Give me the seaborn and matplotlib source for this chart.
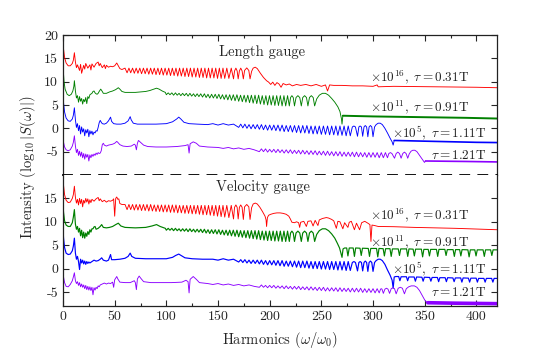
import pandas as pd
import matplotlib
matplotlib.use('Agg')
import matplotlib.pyplot as plt
import seaborn as sns
from matplotlib.ticker import MultipleLocator

# spectra: (harmonic order, log10 intensity incl. offset)

# ---- length gauge ----
red_len = [
    (0, 18.3), (0.5, 17.0), (1.5, 15.2), (3, 14.0), (5, 13.4), (7, 13.4), (9, 13.9), (10, 14.6), (11, 16.2), (12, 14.2),
    (13, 13.0), (14, 13.6), (16, 12.4), (17, 13.7), (18, 11.8), (20, 13.5), (21, 12.7), (22, 13.9), (24, 12.9), (26, 13.6),
    (27, 12.5), (28, 13.8), (30, 13.1), (32, 13.9), (34, 14.2), (35, 13.4), (36, 13.9), (38, 13.0), (40, 13.6), (41, 12.8),
    (42, 13.5), (44, 13.1), (46, 13.3), (48, 13.2), (50, 13.4), (51, 13.7), (52, 14.0), (53, 13.6), (54, 13.2), (55, 12.8),
    (57, 12.6), (58, 12.7), (60, 12.9), (62, 11.9), (63.8, 12.9), (65.5, 11.9), (67.3, 12.9), (69, 11.8), (70.8, 12.9),
    (72.5, 11.8), (74.3, 12.9), (76, 11.7), (77.8, 12.9), (79.5, 11.7), (81.3, 12.9), (83, 11.6), (84.8, 12.9), (86.5, 11.6),
    (88.3, 12.9), (90, 11.5), (91.8, 12.9), (93.5, 11.5), (95.3, 12.9), (97, 11.4), (98.8, 12.9), (100.5, 11.4), (102.3, 12.9),
    (104, 11.3), (105.8, 12.9), (107.5, 11.3), (109.3, 12.9), (111, 11.2), (112.8, 12.9), (114.5, 11.2), (116.3, 12.9),
    (118, 11.1), (119.8, 12.9), (121.5, 11.1), (123.3, 12.9), (125, 11.0), (126.8, 12.9), (128.5, 11.0), (130.3, 12.9),
    (132, 10.9), (133.8, 12.9), (135.5, 10.9), (137.3, 12.9), (139, 10.8), (140.8, 12.9), (142.5, 10.8), (144.3, 12.9),
    (146, 10.8), (147.8, 12.9), (149.5, 10.7), (151.3, 12.9), (153, 10.7), (154.8, 12.9), (156.5, 10.7), (158.5, 12.9),
    (160.5, 10.7), (162.8, 12.9), (165, 10.6), (166, 12.3), (167.3, 12.9), (168.5, 12.3), (169.5, 10.6), (170.7, 12.3),
    (172, 12.9), (173.3, 12.3), (174.5, 10.6), (175.7, 12.4), (177.8, 12.95), (179.8, 12.4), (181, 10.6),
    (182.5, 12.2), (184, 12.9), (186, 13.1), (188, 12.8), (191, 11.8), (194, 10.9), (197, 10.2), (199, 9.9), (201, 9.4),
    (203, 9.9), (205, 9.2), (207, 9.8), (209, 9.5), (211, 8.8), (213, 9.6), (216, 9.3), (219, 9.5), (222, 9.1), (226, 9.4),
    (230, 9.2), (235, 9.4), (240, 9.1), (245, 9.4), (250, 9.0), (254, 9.3), (256, 8.0), (258, 9.3), (262, 9.2), (270, 9.2),
    (280, 9.1), (290, 9.1), (300, 9.0), (304, 9.3), (305, 8.9), (320, 9.0), (340, 8.95), (360, 8.9), (380, 8.85),
    (400, 8.8), (420, 8.7),
]

green_len = [
    (0, 13.2), (0.5, 11.6), (1, 10.0), (2, 8.4), (4, 7.3), (6, 7.0), (8, 7.3), (9.5, 8.0), (10.5, 9.0), (11, 10.2),
    (12, 8.0), (13, 6.5), (14, 7.0), (15, 5.6), (16, 6.8), (17, 5.8), (18, 6.4), (19, 5.2), (20, 6.2), (21, 5.7),
    (22, 6.6), (23, 5.3), (24, 6.8), (25, 6.4), (26, 7.2), (28, 7.5), (29, 7.9), (30, 8.0), (31, 7.6), (32, 7.4),
    (33, 7.3), (34, 7.5), (35, 7.9), (36.5, 8.4), (38, 7.9), (39, 7.5), (42, 7.5), (45, 7.8), (48, 8.0), (51, 8.3),
    (53.5, 8.7), (55, 8.4), (57, 7.9), (60, 7.7), (65, 7.7), (70, 7.7), (75, 7.8), (80, 7.9), (84, 8.1), (88, 8.4),
    (90.5, 8.6), (93, 8.4), (96, 8.0), (99, 7.7),
    (100, 7.2), (101.8, 7.6), (103.5, 7.2), (105.3, 7.6), (107, 7.1), (108.8, 7.6), (110.5, 7.1), (112.3, 7.5), (114, 7.0),
    (115.8, 7.5), (117.5, 7.0), (119.3, 7.5), (121, 6.9), (122.8, 7.5), (124.5, 6.9), (126.3, 7.4), (128, 6.8), (129.8, 7.4),
    (131.5, 6.8), (133.3, 7.4), (135, 6.7), (136.8, 7.4), (138.5, 6.6), (140.3, 7.3), (142, 6.5), (143.8, 7.3), (145.5, 6.5),
    (147.3, 7.3), (149, 6.4), (150.8, 7.3), (152.5, 6.3), (154.3, 7.2), (156, 6.2), (157.8, 7.2), (159.5, 6.1), (161.3, 7.2),
    (163, 6.0), (164.8, 7.2), (166.5, 5.9), (168.3, 7.2), (170, 5.8), (171.8, 7.1), (173.5, 5.7), (175.3, 7.1), (177, 5.6),
    (178.8, 7.1), (180.5, 5.5), (182.3, 7.1), (184, 5.4), (185.8, 7.1), (187.5, 5.3), (189.3, 7.1), (191, 5.2), (192.8, 7.0),
    (194.5, 5.1), (196.3, 7.0), (198, 5.0), (199.8, 7.0), (201.5, 5.0), (203.3, 7.0), (205, 4.9), (206.8, 7.0), (208.5, 4.9),
    (210.3, 7.0), (212, 4.8), (213.8, 7.0), (215.5, 4.8), (217.3, 7.0), (219, 4.8), (220.2, 6.6), (221.5, 7.0), (222.8, 6.6),
    (224, 4.8), (225.5, 6.6), (227.3, 7.0), (229.1, 6.6), (230.6, 4.8), (232, 6.6), (233.8, 7.0), (235.6, 6.6), (237, 4.8),
    (238.5, 6.6), (240.3, 7.0), (242.1, 6.6), (243.5, 4.8), (245.5, 6.3), (248, 7.1), (251, 7.5), (254, 7.5), (257, 7.1),
    (260, 6.4), (263, 5.6), (266, 4.6), (268, 3.6), (269.5, 2.0), (270, 0.9), (270.8, 2.7),
]
green_len_floor = [(270.8, 2.7), (300, 2.55), (330, 2.45), (360, 2.35), (390, 2.25), (420, 2.1)]

blue_len = [
    (0, 7.1), (0.5, 5.5), (1.5, 3.5), (3, 2.2), (5, 1.6), (7, 1.5), (9, 2.0), (10, 2.8), (11, 4.4), (12, 1.8),
    (13, 0.2), (14, 1.0), (15, -0.5), (16, 0.6), (17, -1.2), (18, 0.3), (19, -0.8), (20, -0.1), (21, -1.6), (22, -0.3),
    (23, -1.0), (24, -0.2), (25, -1.8), (26, -0.5), (27, -1.2), (28, -0.6), (29, -1.4), (30, -0.8), (31, -1.0), (32, -0.5),
    (33, -0.6), (34, 0.2), (35, 1.2), (36, 1.7), (37, 1.3), (38, 1.0), (40, 0.9), (42, 1.1), (44, 1.6), (46, 2.4),
    (47, 1.5), (49, 1.0), (52, 0.9), (56, 0.9), (60, 1.1), (63, 1.6), (65, 2.5), (66, 1.8), (68, 1.1), (72, 0.9),
    (80, 0.9), (90, 0.9), (100, 1.0), (106, 1.4), (110, 2.0), (112, 2.4), (114, 2.0), (117, 1.3), (122, 1.0), (130, 0.9),
    (140, 0.8), (145, 1.0), (150, 0.7), (155, 1.0), (160, 0.7), (165, 0.9),
    (170, 0.2), (172, 0.9), (174, 0.1), (176, 0.9), (178, 0.0), (180, 0.8), (182, -0.1), (184, 0.8), (186, -0.1), (188, 0.8),
    (190, -0.2), (192, 0.8), (194, -0.3), (196, 0.7), (198, -0.4), (200, 0.7), (202, -0.4), (204, 0.7), (206, -0.5),
    (208, 0.7), (210, -0.6), (212, 0.7), (214, -0.7), (216, 0.6), (218, -0.7), (220, 0.6), (222, -0.8), (224, 0.6),
    (226, -0.9), (228, 0.6), (230, -1.0), (232, 0.6), (234, -1.0), (236, 0.6), (238, -1.1), (240, 0.5), (242, -1.2),
    (244, 0.5), (246, -1.2), (248, 0.5), (250, -1.3), (252, 0.5), (254, -1.3), (256, 0.5), (258, -1.4), (260, 0.5),
    (262, -1.4), (264, 0.5), (266, -1.5), (268, 0.5), (270, -1.5), (272, 0.5), (274, -1.6), (276, 0.5), (278, -1.6),
    (280, 0.3), (281.5, 0.5), (283, 0.3), (285, -1.7), (286.3, 0.3), (287.5, 0.5), (288.8, 0.3), (290, -1.7), (291.3, 0.3),
    (292.5, 0.6), (293.8, 0.3), (295, -1.8), (296.2, 0.3), (297.5, 0.6), (298.8, 0.3), (300, -1.8), (301.5, 0.3),
    (303, 0.8), (305, 1.1), (307, 1.1), (309, 0.8), (311.5, 0.0), (314, -1.0), (316.5, -2.1), (318.5, -2.9),
    (319.5, -3.6), (320.5, -2.6),
]
blue_len_floor = [(320.5, -2.6), (340, -2.7), (360, -2.8), (380, -2.9), (400, -3.0), (420, -3.05)]

purple_len = [
    (0, -2.0), (0.5, -3.0), (1.5, -4.0), (3, -4.6), (5, -4.8), (7, -4.6), (9, -3.8), (10, -3.0), (11, -1.6), (12, -3.8),
    (13, -5.2), (14, -4.5), (15, -5.8), (16, -4.9), (17, -6.0), (18, -5.1), (19, -6.3), (20, -5.4), (21, -6.6), (22, -5.5),
    (23, -6.2), (24, -5.6), (25, -7.0), (26, -5.7), (27, -6.3), (28, -5.6), (29, -6.0), (30, -5.5), (31, -5.8), (32, -5.3),
    (33, -5.6), (34, -5.2), (35, -5.4), (36, -5.3), (37, -4.8), (38, -3.5), (39, -3.2), (40, -3.6), (42, -3.8), (44, -3.6),
    (46, -3.5), (48, -3.4), (50, -3.2), (52, -2.8), (53, -3.0), (55, -3.5), (58, -3.8), (62, -3.9), (66, -3.8), (69, -3.4),
    (70, -3.6), (71, -4.6), (72, -3.2), (73, -2.6), (75, -3.0), (78, -3.6), (82, -3.9), (90, -4.0), (100, -4.0), (110, -3.9),
    (118, -3.7), (121, -3.5), (122, -5.3), (123, -3.3), (126, -2.9), (129, -3.2), (132, -3.8), (140, -4.0), (150, -4.1),
    (155, -4.3), (160, -4.1), (165, -4.4), (170, -4.2), (175, -4.5), (180, -4.3), (185, -4.6),
    (190, -5.0), (192, -4.4), (194, -5.0), (196, -4.4), (198, -5.1), (200, -4.5), (202, -5.1), (204, -4.5), (206, -5.2),
    (208, -4.5), (210, -5.2), (212, -4.6), (214, -5.3), (216, -4.6), (218, -5.3), (220, -4.6), (222, -5.4), (224, -4.7),
    (226, -5.4), (228, -4.7), (230, -5.5), (232, -4.7), (234, -5.5), (236, -4.8), (238, -5.6), (240, -4.8), (242, -5.6),
    (244, -4.8), (246, -5.7), (248, -4.9), (250, -5.7), (252, -4.9), (254, -5.8), (256, -4.9), (258, -5.8), (260, -5.0),
    (262, -5.9), (264, -5.0), (266, -5.9), (268, -5.0), (270, -6.0), (272, -5.1), (274, -6.0), (276, -5.1), (278, -6.0),
    (280, -5.1), (282, -6.1), (284, -5.1), (286, -6.1), (288, -5.2), (290, -6.1), (292, -5.2), (294, -6.2), (296, -5.2),
    (298, -6.2), (300, -5.2), (302, -6.2), (304, -5.2), (306, -6.3), (308, -5.2), (310, -6.3), (312, -5.2), (314, -6.3),
    (315.3, -5.4), (316.8, -5.2), (318.3, -5.4), (320.8, -6.4), (322.4, -5.4), (324, -5.1), (325.6, -5.4), (327.2, -6.4),
    (328.8, -5.4), (330.4, -5.1), (332, -5.4), (333.6, -6.4), (335, -5.5), (336.8, -4.9), (338.5, -4.7), (340.5, -4.7),
    (342.5, -5.0), (345, -5.8), (347.5, -6.6), (349.8, -7.3), (350.8, -7.0),
]
purple_len_floor = [(350.8, -7.0), (370, -7.05), (390, -7.1), (420, -7.2)]

# ---- velocity gauge ----
red_vel = [
    (0, 19.6), (0.5, 17.8), (1.5, 15.8), (3, 14.6), (5, 14.1), (7, 14.2), (9, 15.0), (10, 15.8), (11, 17.6), (12, 15.2),
    (13, 14.0), (14, 14.8), (15, 13.6), (16, 15.0), (17, 13.9), (18, 14.8), (19, 13.2), (20, 14.6), (21, 14.0), (22, 15.0),
    (23, 14.2), (24, 14.9), (25, 13.8), (26, 14.7), (27, 14.1), (28, 14.8), (30, 14.4), (32, 14.9), (34, 15.2), (35, 14.5),
    (36, 14.9), (38, 14.3), (40, 14.6), (42, 14.2), (44, 14.5), (46, 14.4), (48, 14.6), (49, 14.9), (50, 11.2), (51, 15.0),
    (52, 15.3), (53, 14.8), (54, 14.9), (55, 13.9), (57, 13.7), (58, 13.7), (60, 13.7), (62, 12.6), (63.8, 13.7),
    (65.5, 12.6), (67.3, 13.7), (69, 12.5), (70.8, 13.7), (72.5, 12.5), (74.3, 13.7), (76, 12.4), (77.8, 13.7), (79.5, 12.4),
    (81.3, 13.7), (83, 12.3), (84.8, 13.7), (86.5, 12.3), (88.3, 13.6), (90, 12.2), (91.8, 13.6), (93.5, 12.2), (95.3, 13.6),
    (97, 12.1), (98.8, 13.6), (100.5, 12.1), (102.3, 13.6), (104, 12.0), (105.8, 13.6), (107.5, 12.0), (109.3, 13.6),
    (111, 11.9), (112.8, 13.5), (114.5, 11.9), (116.3, 13.5), (118, 11.8), (119.8, 13.5), (121.5, 11.8), (123.3, 13.5),
    (125, 11.7), (126.8, 13.5), (128.5, 11.7), (130.3, 13.5), (132, 11.6), (133.8, 13.5), (135.5, 11.5), (137.3, 13.5),
    (139, 11.5), (140.8, 13.5), (142.5, 11.4), (144.3, 13.5), (146, 11.3), (147.8, 13.5), (149.5, 11.2), (151.3, 13.5),
    (153, 11.1), (154.8, 13.5), (156.5, 11.0), (158.5, 13.5), (160.5, 10.9), (162.8, 13.5), (165, 10.6), (166, 13.1),
    (167.3, 13.6), (168.5, 13.1), (169.5, 10.6), (170.7, 13.1), (172, 13.6), (173.3, 13.1), (174.5, 10.5), (175.7, 13.2),
    (177.8, 13.7), (179.8, 13.2), (181, 10.5),
    (182.5, 13.0), (184, 13.8), (186, 14.0), (188, 13.8), (190.5, 13.1), (193, 12.2), (195.5, 11.2), (196.5, 10.4),
    (197, 9.0), (197.8, 10.9), (199, 11.4), (201, 11.6), (204, 11.8), (207, 11.9), (210, 11.9), (213, 11.8), (216, 11.6),
    (218.5, 11.2), (220, 10.6), (221.5, 9.9), (224, 9.8), (226, 10.0), (228, 9.8), (229, 8.8), (230, 9.9), (233, 10.1),
    (235.5, 9.0), (237, 10.1), (240, 10.2), (242, 9.1), (244, 10.3), (246.7, 9.2), (248, 10.4), (251, 10.7), (254.8, 10.9),
    (257, 10.8), (260, 10.5), (262, 10.2), (264.5, 8.6), (266, 10.1), (268, 10.0), (270.8, 8.5), (272.5, 9.8), (275.7, 8.8),
    (277, 9.9), (279, 10.1), (282, 8.3), (284, 9.7), (287, 8.3), (289, 9.8), (292, 10.1), (295, 9.7), (297, 9.4),
    (298, 5.8), (299, 9.3), (301.5, 9.2), (305, 9.0), (320, 8.95), (340, 8.8), (360, 8.7), (380, 8.6), (400, 8.45),
    (420, 8.3),
]

green_vel = [
    (0, 13.5), (0.5, 12.0), (1.5, 10.2), (3, 9.3), (5, 9.0), (7, 9.0), (9, 9.8), (10, 11.0), (11, 12.6), (12, 9.5),
    (13, 8.4), (14, 9.0), (15, 7.8), (16, 8.6), (17, 7.0), (18, 8.2), (19, 6.6), (20, 7.8), (21, 6.5), (22, 7.6),
    (23, 6.9), (24, 7.9), (25, 7.3), (26, 8.3), (27, 7.8), (28, 8.5), (29, 8.5), (30, 8.9), (31, 9.0), (32, 8.4),
    (34, 8.6), (36, 9.0), (37.4, 9.4), (39, 8.8), (42, 8.7), (45, 8.8), (48, 9.0), (51, 9.4), (53.5, 9.7), (56, 9.1),
    (60, 8.8), (70, 8.7), (80, 8.8), (86, 9.1), (90.5, 9.4), (94, 9.0), (99, 8.6),
    (100, 8.2), (101.8, 8.6), (103.5, 8.2), (105.3, 8.6), (107, 8.1), (108.8, 8.6), (110.5, 8.1), (112.3, 8.5), (114, 8.0),
    (115.8, 8.5), (117.5, 8.0), (119.3, 8.5), (121, 7.9), (122.8, 8.5), (124.5, 7.9), (126.3, 8.4), (128, 7.8), (129.8, 8.4),
    (131.5, 7.8), (133.3, 8.4), (135, 7.7), (136.8, 8.4), (138.5, 7.6), (140.3, 8.3), (142, 7.5), (143.8, 8.3), (145.5, 7.5),
    (147.3, 8.3), (149, 7.4), (150.8, 8.3), (152.5, 7.3), (154.3, 8.2), (156, 7.2), (157.8, 8.2), (159.5, 7.1), (161.3, 8.2),
    (163, 7.0), (164.8, 8.2), (166.5, 6.9), (168.3, 8.2), (170, 6.8), (171.8, 8.1), (173.5, 6.7), (175.3, 8.1), (177, 6.6),
    (178.8, 8.1), (180.5, 6.5), (182.3, 8.1), (184, 6.4), (185.8, 8.1), (187.5, 6.3), (189.3, 8.1), (191, 6.2), (192.8, 8.0),
    (194.5, 6.1), (196.3, 8.0), (198, 6.0), (199.8, 8.0), (201.5, 6.0), (203.3, 8.0), (205, 5.9), (206.8, 8.0), (208.5, 5.9),
    (210.3, 8.0), (212, 5.8), (213.8, 8.0), (215.5, 5.8), (217.3, 8.0), (219, 5.8), (220.2, 7.6), (221.5, 8.0), (222.8, 7.6),
    (224, 5.8), (225.5, 7.6), (227.3, 8.0), (229.1, 7.6), (230.6, 5.8), (232, 7.6), (233.8, 8.0), (235.6, 7.6), (237, 5.8),
    (238.5, 7.6), (240.3, 8.0), (242.1, 7.6), (243.5, 5.8), (245.5, 7.3), (248, 8.1), (251, 8.5), (254, 8.5), (257, 8.1),
    (260, 7.4), (263, 6.5), (265.5, 5.4), (267.6, 4.4), (269, 3.2), (270, 2.4), (271, 4.2), (272.5, 4.4),
    (274.5, 4.4), (275.7, 2.7), (277, 4.4), (280.8, 4.4), (282, 2.6), (283.2, 4.4), (287.4, 4.35), (288.6, 2.8),
    (289.8, 4.35), (295.4, 4.3), (296.6, 2.6), (297.8, 4.3), (303.4, 4.3), (304.6, 2.5), (305.8, 4.3), (309.8, 4.25),
    (311, 2.7), (312.2, 4.25), (316.4, 4.25), (317.6, 2.6), (318.8, 4.2), (324.4, 4.2), (325.6, 2.8), (326.8, 4.2),
    (332.4, 4.2), (333.6, 2.6), (334.8, 4.2), (338.8, 4.15), (340, 2.7), (341.2, 4.15), (346.8, 4.15), (348, 2.5),
    (349.2, 4.1), (353.4, 4.1), (354.6, 2.7), (355.8, 4.1), (361.4, 4.1), (362.6, 2.6), (363.8, 4.1), (369.5, 4.1),
    (370.7, 2.8), (371.9, 4.05), (377.5, 4.05), (378.7, 2.6), (379.9, 4.05), (383.8, 4.05), (385, 2.7), (386.2, 4.05),
    (391.8, 4.0), (393, 2.5), (394.2, 4.0), (398.5, 4.0), (399.7, 2.7), (400.9, 4.0), (406.5, 4.0), (407.7, 2.6),
    (408.9, 4.0), (413.8, 4.0), (415, 2.8), (416.2, 4.0), (420, 4.0),
]

blue_vel = [
    (0, 8.5), (0.5, 6.5), (1.5, 4.5), (3, 3.3), (5, 3.0), (7, 3.1), (9, 3.8), (10, 4.8), (11, 6.5), (12, 3.3),
    (13, 2.0), (14, 2.6), (15, 1.5), (16, -0.2), (17, 2.0), (18, 1.2), (19, 1.8), (20, 1.0), (21, 1.6), (22, 0.9),
    (23, 1.5), (24, 1.1), (25, 1.4), (26, 1.2), (28, 1.5), (30, 1.8), (32, 1.6), (34, 1.7), (36, 2.0), (37.4, 2.3),
    (39, 1.8), (42, 1.6), (44, 1.8), (46, 3.0), (47, 1.9), (50, 1.9), (55, 2.0), (60, 2.2), (63, 2.6), (65, 3.3),
    (66.5, 2.6), (70, 2.2), (80, 2.1), (90, 2.1), (100, 2.1), (106, 2.4), (109, 2.8), (112, 3.1), (115, 2.7), (118, 2.3),
    (125, 2.1), (135, 2.0), (145, 2.0), (150, 1.8), (155, 2.1), (160, 1.8), (165, 2.0),
    (170, 1.4), (172, 1.9), (174, 1.3), (176, 1.9), (178, 1.2), (180, 1.8), (182, 1.1), (184, 1.8), (186, 1.1), (188, 1.8),
    (190, 1.0), (192, 1.8), (194, 0.9), (196, 1.7), (198, 0.8), (200, 1.7), (202, 0.8), (204, 1.7), (206, 0.7), (208, 1.7),
    (210, 0.6), (212, 1.7), (214, 0.5), (216, 1.6), (218, 0.5), (220, 1.6), (222, 0.4), (224, 1.6), (226, 0.3), (228, 1.6),
    (230, 0.2), (232, 1.6), (234, 0.2), (236, 1.6), (238, 0.1), (240, 1.5), (242, 0.0), (244, 1.5), (246, 0.0), (248, 1.5),
    (250, -0.1), (252, 1.5), (254, -0.1), (256, 1.5), (258, -0.2), (260, 1.5), (262, -0.2), (264, 1.5), (266, -0.3),
    (268, 1.5), (270, -0.3), (272, 1.5), (274, -0.4), (276, 1.5), (278, -0.4),
    (280, 1.3), (281.5, 1.5), (283, 1.3), (285, -0.5), (286.3, 1.3), (287.5, 1.5), (288.8, 1.3), (290, -0.5), (291.3, 1.3),
    (292.5, 1.6), (293.8, 1.3), (295, -0.6), (296.2, 1.3), (297.5, 1.6), (298.8, 1.3), (300, -0.6), (301.5, 1.3),
    (303, 1.7), (305, 2.0), (307, 2.0), (309, 1.7), (311.5, 0.9), (314, -0.3), (316.5, -1.4), (318.5, -2.5),
    (319.5, -4.2), (320.5, -1.8), (322, -1.7),
    (324.8, -1.7), (326, -2.6), (327.2, -1.75), (332.3, -1.75), (333.5, -2.6), (334.7, -1.8), (339.8, -1.8), (341, -2.7),
    (342.2, -1.8), (347.3, -1.85), (348.5, -2.7), (349.7, -1.85), (354.8, -1.9), (356, -2.7), (357.2, -1.9), (362.3, -1.9),
    (363.5, -2.8), (364.7, -1.95), (369.8, -1.95), (371, -2.8), (372.2, -1.95), (377.3, -2.0), (378.5, -2.8), (379.7, -2.0),
    (384.8, -2.0), (386, -2.9), (387.2, -2.0), (392.3, -2.05), (393.5, -2.9), (394.7, -2.05), (399.8, -2.05), (401, -2.9),
    (402.2, -2.1), (407.3, -2.1), (408.5, -2.9), (409.7, -2.1), (414.8, -2.1), (416, -2.9), (417.2, -2.1), (420, -2.1),
]

purple_vel = [
    (0, -0.5), (0.5, -1.8), (1.5, -3.0), (3, -3.8), (5, -3.9), (7, -3.4), (9, -2.6), (10, -1.8), (11, -0.9), (12, -2.6),
    (13, -3.2), (14, -2.8), (15, -3.6), (16, -3.0), (17, -3.9), (18, -3.3), (19, -4.0), (20, -3.5), (21, -4.3), (22, -3.6),
    (23, -4.5), (24, -3.8), (25, -4.6), (26, -3.9), (27, -4.7), (28, -4.0), (29, -5.6), (30, -4.1), (31, -4.6), (32, -4.0),
    (33, -4.3), (34, -3.7), (35, -3.9), (36, -3.5), (38, -3.3), (40, -3.1), (42, -3.3), (44, -3.1), (46, -3.2), (48, -2.9),
    (49, -4.0), (50, -2.4), (52, -1.7), (53, -2.2), (55, -2.9), (60, -3.0), (65, -3.0), (69, -2.6), (70, -3.0), (71, -4.5),
    (72, -2.2), (73.7, -1.6), (75, -2.0), (78, -2.8), (85, -3.0), (95, -3.0), (105, -3.0), (115, -2.9), (119, -2.5),
    (121, -2.8), (122, -5.2), (123, -2.3), (126, -1.7), (129, -2.3), (132, -3.0), (140, -3.2), (145, -3.4), (150, -3.2),
    (155, -3.5), (160, -3.3), (165, -3.6), (170, -3.4), (175, -3.7), (180, -3.5), (185, -3.8),
    (190, -4.0), (192, -3.5), (194, -4.0), (196, -3.6), (198, -4.1), (200, -3.6), (202, -4.1), (204, -3.6), (206, -4.2),
    (208, -3.7), (210, -4.2), (212, -3.7), (214, -4.3), (216, -3.7), (218, -4.3), (220, -3.8), (222, -4.4), (224, -3.8),
    (226, -4.4), (228, -3.8), (230, -4.5), (232, -3.9), (234, -4.5), (236, -3.9), (238, -4.6), (240, -3.9), (242, -4.6),
    (244, -4.0), (246, -4.7), (248, -4.0), (250, -4.7), (252, -4.0), (254, -4.8), (256, -4.1), (258, -4.8), (260, -4.1),
    (262, -4.8), (264, -4.1), (266, -4.9), (268, -4.1), (270, -4.9), (272, -4.2), (274, -4.9), (276, -4.2), (278, -5.0),
    (280, -4.2), (282, -5.0), (284, -4.2), (286, -5.0), (288, -4.2), (290, -5.1), (292, -4.3), (294, -5.1), (296, -4.3),
    (298, -5.1), (300, -4.3), (302, -5.2), (304, -4.3), (306, -5.2),
    (307.3, -4.4), (308, -4.3), (308.7, -4.4), (310, -5.3), (311.5, -4.4), (313, -4.2), (314.5, -4.4), (316, -5.3),
    (317.6, -4.3), (319.2, -4.1), (320.8, -4.3), (322.4, -5.4), (324.4, -4.2), (326.4, -4.0), (328.4, -4.2), (330.4, -5.4),
    (332.2, -4.3), (334.5, -3.9), (337, -3.7), (340, -3.7), (342.5, -4.0), (345, -4.7), (347.5, -5.7), (350, -6.7),
    (351.5, -7.1), (353, -7.3),
]
purple_vel_floor = [(353, -7.3), (380, -7.4), (400, -7.45), (420, -7.5)]

tau_labels = [r'$\times10^{16},\ \tau = 0.31\mathrm{T}$', r'$\times10^{11},\ \tau = 0.91\mathrm{T}$',
              r'$\times10^{5},\ \tau = 1.11\mathrm{T}$', r'$\tau = 1.21\mathrm{T}$']
label_y_len = [10.9, 4.5, -1.0, -5.85]
label_y_vel = [11.4, 5.65, -0.05, -5.2]
label_x_end = [393, 393, 409.5, 409.5]

c_red, c_green, c_blue, c_purple = '#ff0000', '#008000', '#0000ff', '#8b00ff'

sns.set_style('ticks')
plt.rcParams['font.family'] = 'serif'
plt.rcParams['font.serif'] = ['cmr10']
plt.rcParams['mathtext.fontset'] = 'cm'
plt.rcParams['axes.unicode_minus'] = False
plt.rcParams['font.size'] = 10


def draw(ax, pts, color, lw=0.65):
    df = pd.DataFrame(pts, columns=['harm', 'inten'])
    sns.lineplot(data=df, x='harm', y='inten', ax=ax, color=color, lw=lw,
                 estimator=None, sort=False)


fig = plt.figure(figsize=(5.4, 3.6), dpi=100)
ax_top = fig.add_axes([0.1167, 0.5139, 0.8037, 0.3889])
ax_bot = fig.add_axes([0.1167, 0.15, 0.8037, 0.3639])

draw(ax_top, red_len, c_red)
draw(ax_top, green_len, c_green)
draw(ax_top, green_len_floor, c_green, lw=1.4)
draw(ax_top, blue_len, c_blue)
draw(ax_top, blue_len_floor, c_blue, lw=1.2)
draw(ax_top, purple_len, c_purple)
draw(ax_top, purple_len_floor, c_purple, lw=1.2)

draw(ax_bot, red_vel, c_red)
draw(ax_bot, green_vel, c_green, lw=0.85)
draw(ax_bot, blue_vel, c_blue, lw=0.85)
draw(ax_bot, purple_vel, c_purple)
draw(ax_bot, purple_vel_floor, c_purple, lw=2.6)

for ax in (ax_top, ax_bot):
    ax.set_xlim(0, 420)
    ax.xaxis.set_major_locator(MultipleLocator(50))
    ax.xaxis.set_minor_locator(MultipleLocator(25))
    ax.tick_params(which='both', direction='in', left=True, right=True, labelsize=10, width=0.8)
    ax.tick_params(which='major', length=4.5)
    ax.tick_params(which='minor', length=2.5)
    ax.set_xlabel('')
    ax.set_ylabel('')
    for s in ax.spines.values():
        s.set_linewidth(0.9)
        s.set_color('#222222')

ax_top.set_ylim(-10, 20)
ax_top.set_yticks([-5, 0, 5, 10, 15, 20])
ax_top.tick_params(axis='x', which='both', top=True, bottom=False, labelbottom=False)
ax_top.spines['bottom'].set_linestyle((0, (5, 5)))
ax_top.spines['bottom'].set_linewidth(1.3)
ax_top.spines['bottom'].set_color('black')

ax_bot.set_ylim(-8, 20)
ax_bot.set_yticks([-5, 0, 5, 10, 15])
ax_bot.tick_params(axis='x', which='both', top=False, bottom=True)
ax_bot.spines['top'].set_visible(False)
ax_bot.set_xlabel(r'Harmonics ($\omega/\omega_0$)', fontsize=10.5, labelpad=5)

ax_top.text(193, 16.3, 'Length gauge', ha='center', va='center', fontsize=10.5)
ax_bot.text(193, 17.4, 'Velocity gauge', ha='center', va='center', fontsize=10.5)
for lab, yl, yv, xe in zip(tau_labels, label_y_len, label_y_vel, label_x_end):
    ax_top.text(xe, yl, lab, ha='right', va='center', fontsize=9.5, color='#222222')
    ax_bot.text(xe, yv, lab, ha='right', va='center', fontsize=9.5, color='#222222')

fig.text(0.052, 0.535, r'Intensity ($\log_{10}|S(\omega)|$)', rotation=90,
         ha='center', va='center', fontsize=10.5)

fig.savefig('out.png', dpi=100)
